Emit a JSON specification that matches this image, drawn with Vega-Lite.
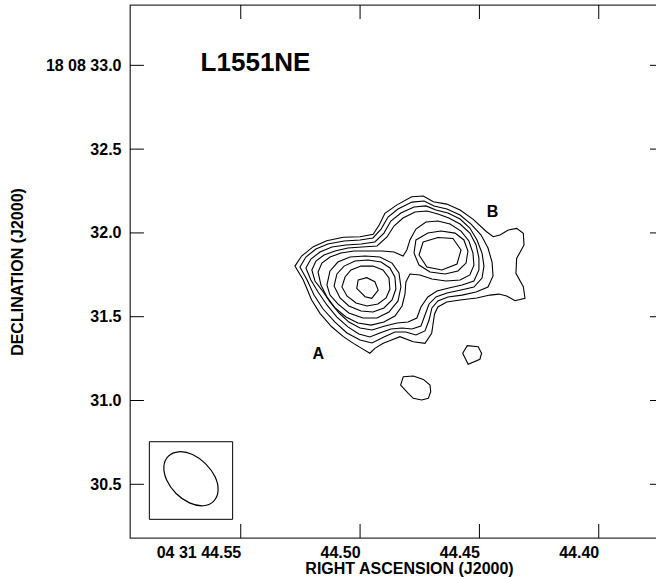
{
"$schema": "https://vega.github.io/schema/vega-lite/v6.json",
"autosize": "none",
"width": 526.5,
"height": 533,
"padding": {"left": 130, "top": 5, "right": -0.5, "bottom": 39},
"background": "white",
"config": {
  "view": {"stroke": "#333333", "strokeWidth": 1.3},
  "font": "Liberation Sans",
  "axis": {"grid": false, "ticks": false, "tickSize": 0, "labelFont": "Liberation Sans", "labelFontWeight": "bold", "labelFontSize": 16, "labelColor": "black",
           "titleFont": "Liberation Sans", "titleFontWeight": "bold", "titleFontSize": 16, "titleColor": "black",
           "domain": false, "labelOverlap": false, "labelBound": false, "labelFlush": false}
},
"datasets": {
  "contours": [
{"c":"L1","o":1,"ra":44.5273,"dec":31.802},{"c":"L1","o":2,"ra":44.5245,"dec":31.862},{"c":"L1","o":3,"ra":44.5196,"dec":31.918},{"c":"L1","o":4,"ra":44.5140,"dec":31.953},{"c":"L1","o":5,"ra":44.5070,"dec":31.974},{"c":"L1","o":6,"ra":44.5000,"dec":31.977},{"c":"L1","o":7,"ra":44.4945,"dec":31.992},{"c":"L1","o":8,"ra":44.4920,"dec":32.047},{"c":"L1","o":9,"ra":44.4896,"dec":32.117},{"c":"L1","o":10,"ra":44.4847,"dec":32.166},{"c":"L1","o":11,"ra":44.4784,"dec":32.216},{"c":"L1","o":12,"ra":44.4735,"dec":32.220},{"c":"L1","o":13,"ra":44.4693,"dec":32.186},{"c":"L1","o":14,"ra":44.4637,"dec":32.172},{"c":"L1","o":15,"ra":44.4581,"dec":32.137},{"c":"L1","o":16,"ra":44.4526,"dec":32.081},{"c":"L1","o":17,"ra":44.4470,"dec":32.007},{"c":"L1","o":18,"ra":44.4442,"dec":31.977},{"c":"L1","o":19,"ra":44.4414,"dec":31.987},{"c":"L1","o":20,"ra":44.4379,"dec":32.017},{"c":"L1","o":21,"ra":44.4344,"dec":32.027},{"c":"L1","o":22,"ra":44.4316,"dec":31.998},{"c":"L1","o":23,"ra":44.4313,"dec":31.928},{"c":"L1","o":24,"ra":44.4344,"dec":31.848},{"c":"L1","o":25,"ra":44.4347,"dec":31.759},{"c":"L1","o":26,"ra":44.4316,"dec":31.679},{"c":"L1","o":27,"ra":44.4309,"dec":31.610},{"c":"L1","o":28,"ra":44.4351,"dec":31.595},{"c":"L1","o":29,"ra":44.4386,"dec":31.624},{"c":"L1","o":30,"ra":44.4418,"dec":31.635},{"c":"L1","o":31,"ra":44.4456,"dec":31.629},{"c":"L1","o":32,"ra":44.4511,"dec":31.612},{"c":"L1","o":33,"ra":44.4581,"dec":31.600},{"c":"L1","o":34,"ra":44.4637,"dec":31.588},{"c":"L1","o":35,"ra":44.4674,"dec":31.558},{"c":"L1","o":36,"ra":44.4688,"dec":31.516},{"c":"L1","o":37,"ra":44.4700,"dec":31.401},{"c":"L1","o":38,"ra":44.4728,"dec":31.341},{"c":"L1","o":39,"ra":44.4777,"dec":31.351},{"c":"L1","o":40,"ra":44.4833,"dec":31.381},{"c":"L1","o":41,"ra":44.4868,"dec":31.361},{"c":"L1","o":42,"ra":44.4903,"dec":31.341},{"c":"L1","o":43,"ra":44.4938,"dec":31.311},{"c":"L1","o":44,"ra":44.4959,"dec":31.282},{"c":"L1","o":45,"ra":44.4993,"dec":31.311},{"c":"L1","o":46,"ra":44.5028,"dec":31.341},{"c":"L1","o":47,"ra":44.5070,"dec":31.381},{"c":"L1","o":48,"ra":44.5119,"dec":31.440},{"c":"L1","o":49,"ra":44.5168,"dec":31.520},{"c":"L1","o":50,"ra":44.5203,"dec":31.600},{"c":"L1","o":51,"ra":44.5238,"dec":31.719},
{"c":"S2","o":1,"ra":44.5252,"dec":31.797},{"c":"S2","o":2,"ra":44.5227,"dec":31.856},{"c":"S2","o":3,"ra":44.5185,"dec":31.904},{"c":"S2","o":4,"ra":44.5135,"dec":31.934},{"c":"S2","o":5,"ra":44.5067,"dec":31.952},{"c":"S2","o":6,"ra":44.5000,"dec":31.958},{"c":"S2","o":7,"ra":44.4946,"dec":31.970},{"c":"S2","o":8,"ra":44.4912,"dec":32.023},{"c":"S2","o":9,"ra":44.4883,"dec":32.095},{"c":"S2","o":10,"ra":44.4841,"dec":32.143},{"c":"S2","o":11,"ra":44.4783,"dec":32.184},{"c":"S2","o":12,"ra":44.4732,"dec":32.190},{"c":"S2","o":13,"ra":44.4690,"dec":32.161},{"c":"S2","o":14,"ra":44.4636,"dec":32.143},{"c":"S2","o":15,"ra":44.4581,"dec":32.107},{"c":"S2","o":16,"ra":44.4535,"dec":32.053},{"c":"S2","o":17,"ra":44.4493,"dec":31.987},{"c":"S2","o":18,"ra":44.4464,"dec":31.910},{"c":"S2","o":19,"ra":44.4447,"dec":31.826},{"c":"S2","o":20,"ra":44.4443,"dec":31.743},{"c":"S2","o":21,"ra":44.4464,"dec":31.677},{"c":"S2","o":22,"ra":44.4514,"dec":31.647},{"c":"S2","o":23,"ra":44.4573,"dec":31.629},{"c":"S2","o":24,"ra":44.4632,"dec":31.618},{"c":"S2","o":25,"ra":44.4674,"dec":31.594},{"c":"S2","o":26,"ra":44.4699,"dec":31.552},{"c":"S2","o":27,"ra":44.4711,"dec":31.480},{"c":"S2","o":28,"ra":44.4728,"dec":31.415},{"c":"S2","o":29,"ra":44.4766,"dec":31.391},{"c":"S2","o":30,"ra":44.4808,"dec":31.409},{"c":"S2","o":31,"ra":44.4854,"dec":31.409},{"c":"S2","o":32,"ra":44.4900,"dec":31.379},{"c":"S2","o":33,"ra":44.4950,"dec":31.343},{"c":"S2","o":34,"ra":44.5000,"dec":31.361},{"c":"S2","o":35,"ra":44.5055,"dec":31.403},{"c":"S2","o":36,"ra":44.5105,"dec":31.468},{"c":"S2","o":37,"ra":44.5155,"dec":31.546},{"c":"S2","o":38,"ra":44.5193,"dec":31.629},{"c":"S2","o":39,"ra":44.5222,"dec":31.719},
{"c":"S3","o":1,"ra":44.5227,"dec":31.791},{"c":"S3","o":2,"ra":44.5206,"dec":31.844},{"c":"S3","o":3,"ra":44.5168,"dec":31.886},{"c":"S3","o":4,"ra":44.5118,"dec":31.916},{"c":"S3","o":5,"ra":44.5059,"dec":31.928},{"c":"S3","o":6,"ra":44.4996,"dec":31.934},{"c":"S3","o":7,"ra":44.4938,"dec":31.946},{"c":"S3","o":8,"ra":44.4900,"dec":31.999},{"c":"S3","o":9,"ra":44.4871,"dec":32.071},{"c":"S3","o":10,"ra":44.4829,"dec":32.119},{"c":"S3","o":11,"ra":44.4774,"dec":32.155},{"c":"S3","o":12,"ra":44.4724,"dec":32.161},{"c":"S3","o":13,"ra":44.4682,"dec":32.137},{"c":"S3","o":14,"ra":44.4632,"dec":32.119},{"c":"S3","o":15,"ra":44.4581,"dec":32.083},{"c":"S3","o":16,"ra":44.4540,"dec":32.029},{"c":"S3","o":17,"ra":44.4510,"dec":31.958},{"c":"S3","o":18,"ra":44.4489,"dec":31.880},{"c":"S3","o":19,"ra":44.4481,"dec":31.802},{"c":"S3","o":20,"ra":44.4489,"dec":31.731},{"c":"S3","o":21,"ra":44.4523,"dec":31.677},{"c":"S3","o":22,"ra":44.4577,"dec":31.659},{"c":"S3","o":23,"ra":44.4636,"dec":31.641},{"c":"S3","o":24,"ra":44.4682,"dec":31.618},{"c":"S3","o":25,"ra":44.4711,"dec":31.576},{"c":"S3","o":26,"ra":44.4728,"dec":31.510},{"c":"S3","o":27,"ra":44.4745,"dec":31.444},{"c":"S3","o":28,"ra":44.4783,"dec":31.427},{"c":"S3","o":29,"ra":44.4824,"dec":31.433},{"c":"S3","o":30,"ra":44.4871,"dec":31.427},{"c":"S3","o":31,"ra":44.4917,"dec":31.403},{"c":"S3","o":32,"ra":44.4959,"dec":31.379},{"c":"S3","o":33,"ra":44.5005,"dec":31.397},{"c":"S3","o":34,"ra":44.5051,"dec":31.439},{"c":"S3","o":35,"ra":44.5097,"dec":31.498},{"c":"S3","o":36,"ra":44.5139,"dec":31.570},{"c":"S3","o":37,"ra":44.5176,"dec":31.647},{"c":"S3","o":38,"ra":44.5206,"dec":31.719},
{"c":"S4","o":1,"ra":44.5202,"dec":31.779},{"c":"S4","o":2,"ra":44.5185,"dec":31.832},{"c":"S4","o":3,"ra":44.5151,"dec":31.868},{"c":"S4","o":4,"ra":44.5105,"dec":31.892},{"c":"S4","o":5,"ra":44.5051,"dec":31.910},{"c":"S4","o":6,"ra":44.4992,"dec":31.916},{"c":"S4","o":7,"ra":44.4929,"dec":31.922},{"c":"S4","o":8,"ra":44.4887,"dec":31.976},{"c":"S4","o":9,"ra":44.4858,"dec":32.041},{"c":"S4","o":10,"ra":44.4820,"dec":32.089},{"c":"S4","o":11,"ra":44.4770,"dec":32.125},{"c":"S4","o":12,"ra":44.4720,"dec":32.131},{"c":"S4","o":13,"ra":44.4674,"dec":32.113},{"c":"S4","o":14,"ra":44.4628,"dec":32.089},{"c":"S4","o":15,"ra":44.4581,"dec":32.053},{"c":"S4","o":16,"ra":44.4540,"dec":31.999},{"c":"S4","o":17,"ra":44.4514,"dec":31.928},{"c":"S4","o":18,"ra":44.4502,"dec":31.850},{"c":"S4","o":19,"ra":44.4502,"dec":31.779},{"c":"S4","o":20,"ra":44.4523,"dec":31.713},{"c":"S4","o":21,"ra":44.4573,"dec":31.689},{"c":"S4","o":22,"ra":44.4628,"dec":31.671},{"c":"S4","o":23,"ra":44.4678,"dec":31.653},{"c":"S4","o":24,"ra":44.4716,"dec":31.618},{"c":"S4","o":25,"ra":44.4745,"dec":31.558},{"c":"S4","o":26,"ra":44.4762,"dec":31.492},{"c":"S4","o":27,"ra":44.4799,"dec":31.468},{"c":"S4","o":28,"ra":44.4845,"dec":31.462},{"c":"S4","o":29,"ra":44.4896,"dec":31.444},{"c":"S4","o":30,"ra":44.4950,"dec":31.421},{"c":"S4","o":31,"ra":44.5000,"dec":31.433},{"c":"S4","o":32,"ra":44.5047,"dec":31.468},{"c":"S4","o":33,"ra":44.5088,"dec":31.522},{"c":"S4","o":34,"ra":44.5126,"dec":31.588},{"c":"S4","o":35,"ra":44.5160,"dec":31.659},{"c":"S4","o":36,"ra":44.5189,"dec":31.713},
{"c":"S5","o":1,"ra":44.5176,"dec":31.767},{"c":"S5","o":2,"ra":44.5160,"dec":31.820},{"c":"S5","o":3,"ra":44.5126,"dec":31.856},{"c":"S5","o":4,"ra":44.5080,"dec":31.880},{"c":"S5","o":5,"ra":44.5026,"dec":31.892},{"c":"S5","o":6,"ra":44.4967,"dec":31.892},{"c":"S5","o":7,"ra":44.4908,"dec":31.892},{"c":"S5","o":8,"ra":44.4858,"dec":31.886},{"c":"S5","o":9,"ra":44.4820,"dec":31.862},{"c":"S5","o":10,"ra":44.4804,"dec":31.898},{"c":"S5","o":11,"ra":44.4791,"dec":31.958},{"c":"S5","o":12,"ra":44.4766,"dec":32.023},{"c":"S5","o":13,"ra":44.4724,"dec":32.065},{"c":"S5","o":14,"ra":44.4674,"dec":32.071},{"c":"S5","o":15,"ra":44.4623,"dec":32.053},{"c":"S5","o":16,"ra":44.4577,"dec":32.011},{"c":"S5","o":17,"ra":44.4544,"dec":31.952},{"c":"S5","o":18,"ra":44.4527,"dec":31.880},{"c":"S5","o":19,"ra":44.4523,"dec":31.808},{"c":"S5","o":20,"ra":44.4540,"dec":31.749},{"c":"S5","o":21,"ra":44.4581,"dec":31.719},{"c":"S5","o":22,"ra":44.4640,"dec":31.713},{"c":"S5","o":23,"ra":44.4699,"dec":31.725},{"c":"S5","o":24,"ra":44.4749,"dec":31.749},{"c":"S5","o":25,"ra":44.4791,"dec":31.755},{"c":"S5","o":26,"ra":44.4808,"dec":31.707},{"c":"S5","o":27,"ra":44.4812,"dec":31.635},{"c":"S5","o":28,"ra":44.4824,"dec":31.564},{"c":"S5","o":29,"ra":44.4854,"dec":31.504},{"c":"S5","o":30,"ra":44.4900,"dec":31.468},{"c":"S5","o":31,"ra":44.4954,"dec":31.450},{"c":"S5","o":32,"ra":44.5009,"dec":31.462},{"c":"S5","o":33,"ra":44.5059,"dec":31.498},{"c":"S5","o":34,"ra":44.5105,"dec":31.552},{"c":"S5","o":35,"ra":44.5139,"dec":31.618},{"c":"S5","o":36,"ra":44.5164,"dec":31.689},
{"c":"A4","o":1,"ra":44.5139,"dec":31.689},{"c":"A4","o":2,"ra":44.5126,"dec":31.773},{"c":"A4","o":3,"ra":44.5093,"dec":31.826},{"c":"A4","o":4,"ra":44.5042,"dec":31.856},{"c":"A4","o":5,"ra":44.4979,"dec":31.862},{"c":"A4","o":6,"ra":44.4917,"dec":31.856},{"c":"A4","o":7,"ra":44.4866,"dec":31.820},{"c":"A4","o":8,"ra":44.4837,"dec":31.761},{"c":"A4","o":9,"ra":44.4829,"dec":31.677},{"c":"A4","o":10,"ra":44.4841,"dec":31.594},{"c":"A4","o":11,"ra":44.4879,"dec":31.528},{"c":"A4","o":12,"ra":44.4929,"dec":31.492},{"c":"A4","o":13,"ra":44.4988,"dec":31.492},{"c":"A4","o":14,"ra":44.5047,"dec":31.522},{"c":"A4","o":15,"ra":44.5093,"dec":31.576},{"c":"A4","o":16,"ra":44.5126,"dec":31.629},
{"c":"A3","o":1,"ra":44.5109,"dec":31.683},{"c":"A3","o":2,"ra":44.5097,"dec":31.755},{"c":"A3","o":3,"ra":44.5067,"dec":31.802},{"c":"A3","o":4,"ra":44.5021,"dec":31.832},{"c":"A3","o":5,"ra":44.4967,"dec":31.838},{"c":"A3","o":6,"ra":44.4912,"dec":31.826},{"c":"A3","o":7,"ra":44.4875,"dec":31.791},{"c":"A3","o":8,"ra":44.4854,"dec":31.737},{"c":"A3","o":9,"ra":44.4850,"dec":31.665},{"c":"A3","o":10,"ra":44.4866,"dec":31.600},{"c":"A3","o":11,"ra":44.4900,"dec":31.552},{"c":"A3","o":12,"ra":44.4946,"dec":31.528},{"c":"A3","o":13,"ra":44.4996,"dec":31.534},{"c":"A3","o":14,"ra":44.5047,"dec":31.564},{"c":"A3","o":15,"ra":44.5084,"dec":31.612},
{"c":"A2","o":1,"ra":44.5076,"dec":31.677},{"c":"A2","o":2,"ra":44.5063,"dec":31.737},{"c":"A2","o":3,"ra":44.5038,"dec":31.779},{"c":"A2","o":4,"ra":44.4996,"dec":31.802},{"c":"A2","o":5,"ra":44.4946,"dec":31.802},{"c":"A2","o":6,"ra":44.4904,"dec":31.779},{"c":"A2","o":7,"ra":44.4879,"dec":31.731},{"c":"A2","o":8,"ra":44.4875,"dec":31.665},{"c":"A2","o":9,"ra":44.4891,"dec":31.612},{"c":"A2","o":10,"ra":44.4925,"dec":31.576},{"c":"A2","o":11,"ra":44.4971,"dec":31.564},{"c":"A2","o":12,"ra":44.5017,"dec":31.582},{"c":"A2","o":13,"ra":44.5055,"dec":31.624},
{"c":"A1","o":1,"ra":44.5008,"dec":31.719},{"c":"A1","o":2,"ra":44.4972,"dec":31.733},{"c":"A1","o":3,"ra":44.4938,"dec":31.709},{"c":"A1","o":4,"ra":44.4924,"dec":31.659},{"c":"A1","o":5,"ra":44.4951,"dec":31.610},{"c":"A1","o":6,"ra":44.4979,"dec":31.619},{"c":"A1","o":7,"ra":44.5014,"dec":31.669},
{"c":"B2","o":1,"ra":44.4766,"dec":31.958},{"c":"B2","o":2,"ra":44.4716,"dec":31.999},{"c":"B2","o":3,"ra":44.4661,"dec":32.011},{"c":"B2","o":4,"ra":44.4602,"dec":31.999},{"c":"B2","o":5,"ra":44.4565,"dec":31.958},{"c":"B2","o":6,"ra":44.4548,"dec":31.892},{"c":"B2","o":7,"ra":44.4556,"dec":31.820},{"c":"B2","o":8,"ra":44.4590,"dec":31.773},{"c":"B2","o":9,"ra":44.4644,"dec":31.755},{"c":"B2","o":10,"ra":44.4707,"dec":31.767},{"c":"B2","o":11,"ra":44.4753,"dec":31.808},{"c":"B2","o":12,"ra":44.4774,"dec":31.880},
{"c":"B1","o":1,"ra":44.4736,"dec":31.946},{"c":"B1","o":2,"ra":44.4674,"dec":31.973},{"c":"B1","o":3,"ra":44.4611,"dec":31.967},{"c":"B1","o":4,"ra":44.4577,"dec":31.898},{"c":"B1","o":5,"ra":44.4594,"dec":31.814},{"c":"B1","o":6,"ra":44.4657,"dec":31.779},{"c":"B1","o":7,"ra":44.4720,"dec":31.797},{"c":"B1","o":8,"ra":44.4753,"dec":31.868},
{"c":"P1","o":1,"ra":44.4570,"dec":31.282},{"c":"P1","o":2,"ra":44.4551,"dec":31.327},{"c":"P1","o":3,"ra":44.4505,"dec":31.321},{"c":"P1","o":4,"ra":44.4491,"dec":31.282},{"c":"P1","o":5,"ra":44.4498,"dec":31.246},{"c":"P1","o":6,"ra":44.4547,"dec":31.216},
{"c":"P2","o":1,"ra":44.4819,"dec":31.142},{"c":"P2","o":2,"ra":44.4777,"dec":31.146},{"c":"P2","o":3,"ra":44.4735,"dec":31.126},{"c":"P2","o":4,"ra":44.4707,"dec":31.092},{"c":"P2","o":5,"ra":44.4704,"dec":31.052},{"c":"P2","o":6,"ra":44.4714,"dec":31.013},{"c":"P2","o":7,"ra":44.4742,"dec":31.003},{"c":"P2","o":8,"ra":44.4777,"dec":31.013},{"c":"P2","o":9,"ra":44.4798,"dec":31.043},{"c":"P2","o":10,"ra":44.4830,"dec":31.092}
  ],
  "beam": [
{"o":1,"ra":44.5614,"dec":30.398},{"o":2,"ra":44.5657,"dec":30.372},{"o":3,"ra":44.5715,"dec":30.389},{"o":4,"ra":44.5771,"dec":30.445},{"o":5,"ra":44.5810,"dec":30.524},{"o":6,"ra":44.5822,"dec":30.606},{"o":7,"ra":44.5803,"dec":30.668},{"o":8,"ra":44.5760,"dec":30.694},{"o":9,"ra":44.5702,"dec":30.678},{"o":10,"ra":44.5647,"dec":30.622},{"o":11,"ra":44.5607,"dec":30.543},{"o":12,"ra":44.5595,"dec":30.461}
  ],
  "box": [{"ra1":44.5883,"ra2":44.5534,"dec1":30.754,"dec2":30.291}],
  "source": [{"t":"L1551NE","ra":44.5438,"dec":33.014}],
  "peaks": [{"t":"A","ra":44.5175,"dec":31.277},{"t":"B","ra":44.4445,"dec":32.125}],
  "raTicks": [{"v":44.55},{"v":44.5},{"v":44.45},{"v":44.4}],
  "decTicks": [{"v":30.5},{"v":31.0},{"v":31.5},{"v":32.0},{"v":32.5},{"v":33.0}]
},
"resolve": {"axis": {"x": "independent", "y": "independent"}},
"layer": [
  {
    "data": {"name": "contours"},
    "mark": {"type": "line", "interpolate": "linear-closed", "color": "black", "strokeWidth": 1.1},
    "encoding": {
      "x": {"field": "ra", "type": "quantitative",
            "scale": {"domain": [44.3758, 44.5964], "reverse": true, "nice": false, "zero": false},
            "axis": {"orient": "bottom", "values": [44.55, 44.5, 44.45, 44.4], "labelPadding": 6,
                     "labelAlign": "right", "labelDx": 2,
                     "labelExpr": "datum.value > 44.549 ? '04 31 44.55' : format(datum.value, '.2f')",
                     "title": "RIGHT ASCENSION (J2000)", "titleX": 279, "titleY": 30, "titleBaseline": "middle"}},
      "y": {"field": "dec", "type": "quantitative",
            "scale": {"domain": [30.1795, 33.36], "nice": false, "zero": false},
            "axis": {"orient": "left", "values": [30.5, 31, 31.5, 32, 32.5, 33], "labelPadding": 9,
                     "labelBaseline": "middle",
                     "labelExpr": "datum.value > 32.99 ? '18 08 33.0' : format(datum.value, '.1f')",
                     "title": "DECLINATION (J2000)", "titleX": -112.5, "titleBaseline": "middle"}},
      "detail": {"field": "c", "type": "nominal"},
      "order": {"field": "o", "type": "quantitative"}
    }
  },
  {
    "data": {"name": "box"},
    "mark": {"type": "rect", "filled": false, "color": "black", "strokeWidth": 1},
    "encoding": {
      "x": {"field": "ra1", "type": "quantitative", "scale": {"domain": [44.3758, 44.5964], "reverse": true, "nice": false, "zero": false}, "axis": null},
      "x2": {"field": "ra2"},
      "y": {"field": "dec1", "type": "quantitative", "scale": {"domain": [30.1795, 33.36], "nice": false, "zero": false}, "axis": null},
      "y2": {"field": "dec2"}
    }
  },
  {
    "data": {"name": "raTicks"},
    "mark": {"type": "tick", "orient": "vertical", "color": "black", "thickness": 1, "size": 14, "opacity": 1},
    "encoding": {
      "x": {"field": "v", "type": "quantitative", "scale": {"domain": [44.3758, 44.5964], "reverse": true, "nice": false, "zero": false}, "axis": null},
      "y": {"datum": 30.2213, "type": "quantitative", "scale": {"domain": [30.1795, 33.36], "nice": false, "zero": false}, "axis": null}
    }
  },
  {
    "data": {"name": "raTicks"},
    "mark": {"type": "tick", "orient": "vertical", "color": "black", "thickness": 1, "size": 14, "opacity": 1},
    "encoding": {
      "x": {"field": "v", "type": "quantitative", "scale": {"domain": [44.3758, 44.5964], "reverse": true, "nice": false, "zero": false}, "axis": null},
      "y": {"datum": 33.3182, "type": "quantitative", "scale": {"domain": [30.1795, 33.36], "nice": false, "zero": false}, "axis": null}
    }
  },
  {
    "data": {"name": "decTicks"},
    "mark": {"type": "tick", "orient": "horizontal", "color": "black", "thickness": 1, "size": 14, "opacity": 1},
    "encoding": {
      "y": {"field": "v", "type": "quantitative", "scale": {"domain": [30.1795, 33.36], "nice": false, "zero": false}, "axis": null},
      "x": {"datum": 44.5935, "type": "quantitative", "scale": {"domain": [44.3758, 44.5964], "reverse": true, "nice": false, "zero": false}, "axis": null}
    }
  },
  {
    "data": {"name": "decTicks"},
    "mark": {"type": "tick", "orient": "horizontal", "color": "black", "thickness": 1, "size": 6.5, "opacity": 1},
    "encoding": {
      "y": {"field": "v", "type": "quantitative", "scale": {"domain": [30.1795, 33.36], "nice": false, "zero": false}, "axis": null},
      "x": {"datum": 44.37716, "type": "quantitative", "scale": {"domain": [44.3758, 44.5964], "reverse": true, "nice": false, "zero": false}, "axis": null}
    }
  },
  {
    "data": {"name": "beam"},
    "mark": {"type": "line", "interpolate": "cardinal-closed", "color": "black", "strokeWidth": 1.2},
    "encoding": {
      "x": {"field": "ra", "type": "quantitative", "scale": {"domain": [44.3758, 44.5964], "reverse": true, "nice": false, "zero": false}, "axis": null},
      "y": {"field": "dec", "type": "quantitative", "scale": {"domain": [30.1795, 33.36], "nice": false, "zero": false}, "axis": null},
      "order": {"field": "o", "type": "quantitative"}
    }
  },
  {
    "data": {"name": "source"},
    "mark": {"type": "text", "font": "Liberation Sans", "fontWeight": "bold", "fontSize": 26, "color": "black", "align": "center", "baseline": "middle"},
    "encoding": {
      "x": {"field": "ra", "type": "quantitative", "scale": {"domain": [44.3758, 44.5964], "reverse": true, "nice": false, "zero": false}, "axis": null},
      "y": {"field": "dec", "type": "quantitative", "scale": {"domain": [30.1795, 33.36], "nice": false, "zero": false}, "axis": null},
      "text": {"field": "t", "type": "nominal"}
    }
  },
  {
    "data": {"name": "peaks"},
    "mark": {"type": "text", "font": "Liberation Sans", "fontWeight": "bold", "fontSize": 16, "color": "black", "align": "center", "baseline": "middle"},
    "encoding": {
      "x": {"field": "ra", "type": "quantitative", "scale": {"domain": [44.3758, 44.5964], "reverse": true, "nice": false, "zero": false}, "axis": null},
      "y": {"field": "dec", "type": "quantitative", "scale": {"domain": [30.1795, 33.36], "nice": false, "zero": false}, "axis": null},
      "text": {"field": "t", "type": "nominal"}
    }
  }
]
}
